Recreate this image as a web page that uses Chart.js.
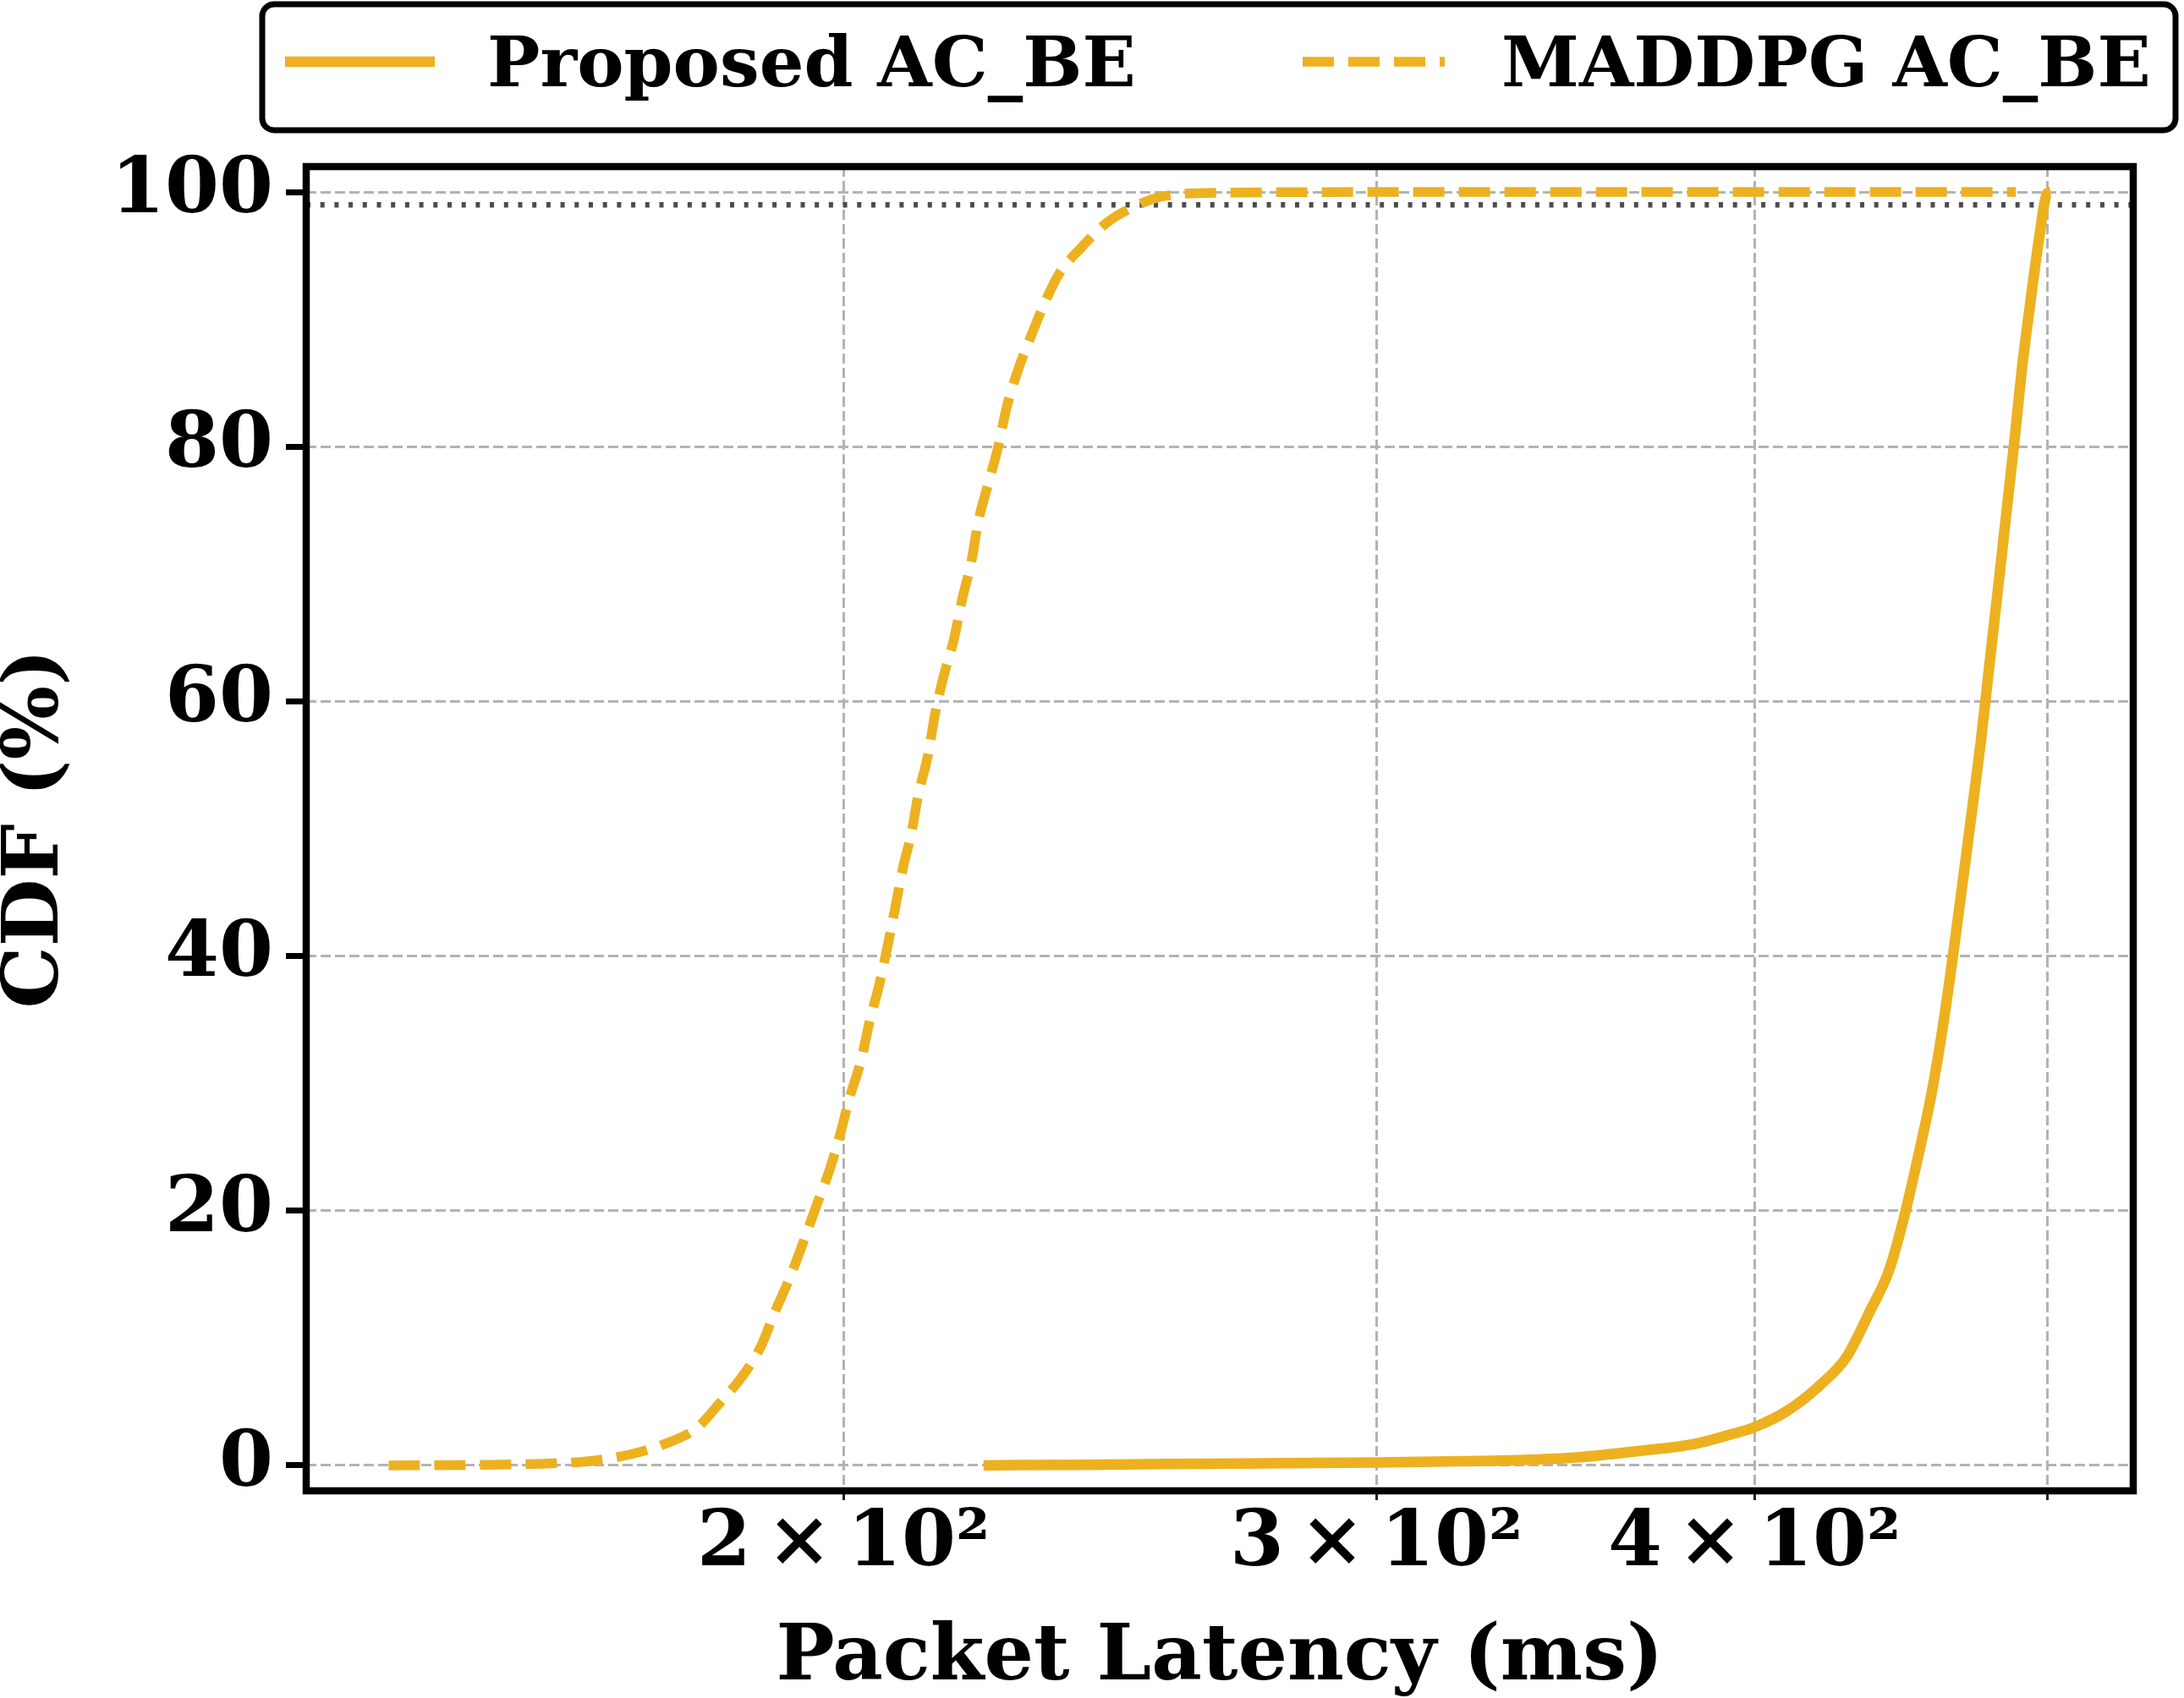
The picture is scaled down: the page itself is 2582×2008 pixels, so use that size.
<!DOCTYPE html>
<html>
<head>
<meta charset="utf-8">
<script src="https://cdn.jsdelivr.net/npm/chart.js@4.4.1/dist/chart.umd.min.js"></script>
<style>
html,body{margin:0;padding:0;background:#fff;}
#wrap{width:2582px;height:2008px;position:relative;}
</style>
</head>
<body>
<div id="wrap"><canvas id="c" width="2582" height="2008"></canvas></div>
<script>
// ---------- data ----------
const seriesLabels = ['Proposed AC_BE', 'MADDPG AC_BE'];

const proposedLatency = [222.5, 240, 255.8, 280, 300, 320, 335.4, 350.9, 367.2, 382.4, 393.8, 400, 410.2, 420.0, 429.0, 436.5, 443.1, 447.9, 452.7, 457.6, 461.6, 465.0, 468.6, 472.1, 475.2, 478.3, 481.4, 484.5, 487.6, 490.2, 493.4, 496.6, 499.8, 501];
const proposedCdf     = [0, 0.05, 0.11, 0.17, 0.22, 0.32, 0.42, 0.66, 1.15, 1.7, 2.5, 3.0, 4.3, 6.2, 8.5, 12.0, 15.3, 19.2, 23.9, 29.1, 34.4, 39.7, 45.7, 51.6, 56.9, 62.9, 68.8, 74.8, 80.7, 86.0, 91.3, 96.2, 99.9, 100];

const maddpgLatency = [141.5, 153.3, 159.1, 164.5, 169.9, 174.5, 179.0, 182.0, 185.2, 187.8, 189.8, 191.9, 193.9, 195.8, 197.9, 199.4, 200.9, 202.7, 204.0, 205.5, 206.8, 208.0, 209.3, 210.6, 211.7, 213.3, 214.4, 215.8, 217.5, 218.9, 220.5, 221.6, 223.3, 225.0, 226.4, 228.4, 230.6, 233.1, 235.7, 239.6, 244.4, 249.7, 255.5, 266.7, 300, 488];
const maddpgCdf     = [0, 0.05, 0.13, 0.31, 0.84, 1.66, 2.99, 4.87, 7.0, 9.3, 12.0, 14.6, 17.4, 20.2, 23.2, 25.8, 28.8, 31.8, 34.8, 37.7, 40.7, 43.7, 47.0, 49.6, 52.6, 55.8, 58.9, 61.9, 64.8, 68.0, 71.1, 74.1, 77.1, 80.0, 83.0, 86.0, 88.6, 91.3, 93.6, 95.6, 97.6, 98.9, 99.7, 99.95, 100, 100];

const thresholdCdf = 99;
const xLimits = [132.9, 533.6];
const yLimits = [-2, 102];
const xTickValues = [200, 300, 400, 500];
const xTickLabels = ['2\u2009\u00d7\u200910\u00b2', '3\u2009\u00d7\u200910\u00b2', '4\u2009\u00d7\u200910\u00b2', ''];
const yTickValues = [0, 20, 40, 60, 80, 100];
const xTitle = 'Packet Latency (ms)';
const yTitle = 'CDF (%)';

// ---------- styling ----------
const LINE_COLOR = '#EDB120';
const GRID_COLOR = '#b3b3b3';
const FONT = '"DejaVu Serif", serif';

const toPoints = (xs, ys) => xs.map((x, i) => ({x: x, y: ys[i]}));

const framePlugin = {
  id: 'frame',
  afterDatasetsDraw(chart) {
    const {ctx, chartArea: a} = chart;
    ctx.save();
    ctx.lineWidth = 8.5;
    ctx.strokeStyle = '#000';
    ctx.setLineDash([]);
    ctx.strokeRect(a.left, a.top, a.right - a.left, a.bottom - a.top);
    ctx.restore();
  }
};

const legendPlugin = {
  id: 'boxLegend',
  afterDraw(chart) {
    const ctx = chart.ctx;
    ctx.save();
    ctx.lineWidth = 7;
    ctx.strokeStyle = '#000';
    ctx.fillStyle = '#fff';
    ctx.beginPath();
    ctx.roundRect(310, 5, 2262, 149, 14);
    ctx.fill();
    ctx.stroke();
    const items = [
      {ds: 0, x0: 337, x1: 514, tx: 576},
      {ds: 1, x0: 1540, x1: 1708, tx: 1775}
    ];
    const cy = 73;
    items.forEach(it => {
      const ds = chart.data.datasets[it.ds];
      ctx.save();
      ctx.setLineDash(ds.borderDash || []);
      ctx.lineWidth = ds.borderWidth;
      ctx.strokeStyle = ds.borderColor;
      ctx.lineCap = 'butt';
      ctx.beginPath();
      ctx.moveTo(it.x0, cy);
      ctx.lineTo(it.x1, cy);
      ctx.stroke();
      ctx.restore();
      ctx.fillStyle = '#000';
      ctx.font = 'bold 83px ' + FONT;
      ctx.textBaseline = 'alphabetic';
      ctx.textAlign = 'left';
      ctx.fillText(ds.label, it.tx, 102);
    });
    ctx.restore();
  }
};

new Chart(document.getElementById('c'), {
  type: 'line',
  data: {
    datasets: [
      {
        label: seriesLabels[0],
        data: toPoints(proposedLatency, proposedCdf),
        borderColor: LINE_COLOR,
        borderWidth: 12.5,
        borderCapStyle: 'butt',
        pointRadius: 0,
        cubicInterpolationMode: 'monotone',
        fill: false
      },
      {
        label: seriesLabels[1],
        data: toPoints(maddpgLatency, maddpgCdf),
        borderColor: LINE_COLOR,
        borderWidth: 11.5,
        borderDash: [37, 17],
        pointRadius: 0,
        cubicInterpolationMode: 'monotone',
        fill: false
      },
      {
        label: 'threshold',
        data: [{x: xLimits[0], y: thresholdCdf}, {x: xLimits[1], y: thresholdCdf}],
        borderColor: '#4d4d4d',
        borderWidth: 6.5,
        borderDash: [5, 11.7],
        pointRadius: 0,
        fill: false
      }
    ]
  },
  options: {
    responsive: false,
    animation: false,
    devicePixelRatio: 1,
    parsing: true,
    layout: {padding: {top: 197, right: 60, bottom: 0, left: 0}},
    plugins: {
      legend: {display: false},
      tooltip: {enabled: false}
    },
    scales: {
      x: {
        type: 'logarithmic',
        min: xLimits[0],
        max: xLimits[1],
        afterBuildTicks: (s) => { s.ticks = xTickValues.map(v => ({value: v})); },
        afterFit: (s) => { s.height = 245; },
        ticks: {
          autoSkip: false,
          maxRotation: 0,
          minRotation: 0,
          padding: 7,
          color: '#000',
          font: {family: FONT, size: 92, weight: 'bold', lineHeight: 1.0},
          callback: (v, i) => xTickLabels[i]
        },
        grid: {
          color: GRID_COLOR,
          lineWidth: 3,
          drawTicks: true,
          tickLength: 11,
          tickWidth: 3,
          tickColor: '#222'
        },
        border: {display: false, dash: [12, 5]},
        title: {
          display: true,
          text: xTitle,
          color: '#000',
          font: {family: FONT, size: 92, weight: 'bold', lineHeight: 1.0},
          padding: {top: 0, bottom: 0}
        }
      },
      y: {
        type: 'linear',
        min: yLimits[0],
        max: yLimits[1],
        afterBuildTicks: (s) => { s.ticks = yTickValues.map(v => ({value: v})); },
        afterFit: (s) => { s.width = 362; },
        ticks: {
          padding: 15,
          color: '#000',
          font: {family: FONT, size: 92, weight: 'bold'},
          callback: (v) => String(v)
        },
        grid: {
          color: GRID_COLOR,
          lineWidth: 3,
          drawTicks: true,
          tickLength: 24,
          tickWidth: 7,
          tickColor: '#000'
        },
        border: {display: false, dash: [12, 5]},
        title: {
          display: true,
          text: yTitle,
          color: '#000',
          font: {family: FONT, size: 92, weight: 'bold', lineHeight: 0.965},
          padding: {top: 0, bottom: 0}
        }
      }
    }
  },
  plugins: [framePlugin, legendPlugin]
});
</script>
</body>
</html>
